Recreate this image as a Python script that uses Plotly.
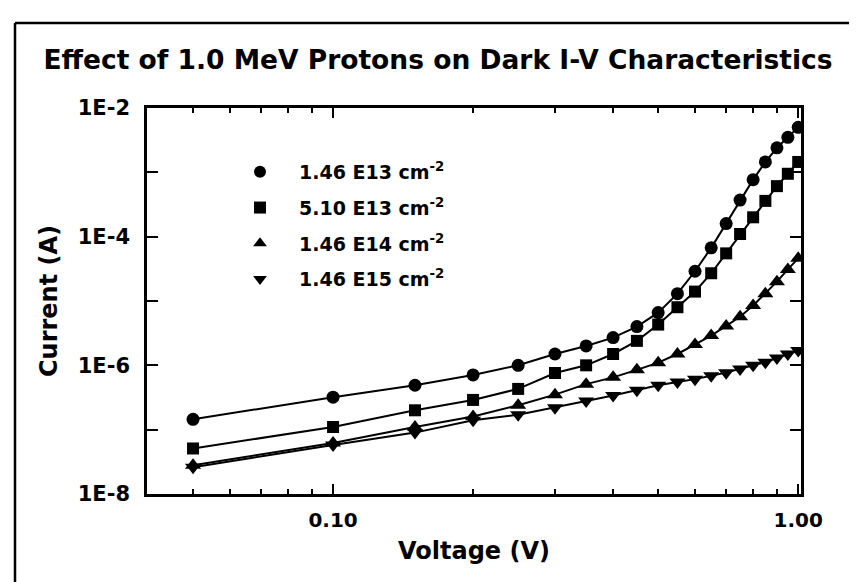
import plotly.graph_objects as go

# ---- data ----
voltage = [0.05, 0.10, 0.15, 0.20, 0.25, 0.30, 0.35, 0.40, 0.45, 0.50,
           0.55, 0.60, 0.65, 0.70, 0.75, 0.80, 0.85, 0.90, 0.95, 1.00]

i_146e13 = [1.45e-7, 3.2e-7, 4.9e-7, 7.1e-7, 1.0e-6, 1.5e-6, 2.0e-6, 2.7e-6, 4.0e-6, 6.6e-6,
            1.3e-5, 2.9e-5, 6.7e-5, 1.6e-4, 3.7e-4, 7.7e-4, 1.45e-3, 2.4e-3, 3.5e-3, 5.0e-3]
i_510e13 = [5.1e-8, 1.1e-7, 2.0e-7, 2.9e-7, 4.3e-7, 7.6e-7, 1.0e-6, 1.5e-6, 2.4e-6, 4.3e-6,
            8.0e-6, 1.4e-5, 2.7e-5, 5.5e-5, 1.1e-4, 2.0e-4, 3.6e-4, 6.1e-4, 9.5e-4, 1.45e-3]
i_146e14 = [2.8e-8, 6.2e-8, 1.1e-7, 1.6e-7, 2.4e-7, 3.5e-7, 5.1e-7, 6.5e-7, 8.5e-7, 1.1e-6,
            1.5e-6, 2.1e-6, 2.9e-6, 4.1e-6, 5.7e-6, 8.5e-6, 1.3e-5, 2.0e-5, 3.1e-5, 4.6e-5]
i_146e15 = [2.6e-8, 5.8e-8, 9.0e-8, 1.4e-7, 1.7e-7, 2.2e-7, 2.8e-7, 3.4e-7, 4.1e-7, 4.9e-7,
            5.5e-7, 6.1e-7, 6.9e-7, 7.7e-7, 8.8e-7, 1.0e-6, 1.12e-6, 1.3e-6, 1.5e-6, 1.7e-6]

series_names = ["1.46 E13 cm<sup>-2</sup>", "5.10 E13 cm<sup>-2</sup>",
                "1.46 E14 cm<sup>-2</sup>", "1.46 E15 cm<sup>-2</sup>"]
series_values = [i_146e13, i_510e13, i_146e14, i_146e15]
symbols = ["circle", "square", "triangle-up", "triangle-down"]
sizes = [13, 12, 14, 14]

x_tickvals = [0.1, 1.0]
x_ticktext = ["0.10", "1.00"]
x_minor = [0.05, 0.06, 0.07, 0.08, 0.09, 0.2, 0.3, 0.4, 0.5, 0.6, 0.7, 0.8, 0.9]
y_tickvals = [1e-2, 1e-3, 1e-4, 1e-5, 1e-6, 1e-7, 1e-8]
y_ticktext = ["1E-2", "", "1E-4", "", "1E-6", "", "1E-8"]

FONT = "DejaVu Sans, Liberation Sans, Arial, sans-serif"

fig = go.Figure()
for name, vals, sym, sz in zip(series_names, series_values, symbols, sizes):
    fig.add_trace(go.Scatter(
        x=voltage, y=vals, mode="lines+markers",
        line=dict(color="black", width=2),
        marker=dict(symbol=sym, size=sz, color="black"),
        showlegend=False, name=name))
# legend entries (marker only)
for i, (name, sym, sz) in enumerate(zip(series_names, symbols, sizes)):
    fig.add_trace(go.Scatter(
        x=[None], y=[None], mode="markers",
        marker=dict(symbol=sym, size=sz, color="black"),
        name="<b>" + name + "</b>", legendgroup=str(i)))

W, H = 857, 582
L, R, T, B = 139, 64, 100, 96
pw, ph = W - L - R, H - T - B

def px_x(p):
    return (p - L) / pw

def px_y(p):
    return (H - B - p) / ph

fig.update_layout(
    width=W, height=H,
    margin=dict(l=L, r=R, t=T, b=B),
    paper_bgcolor="white", plot_bgcolor="white",
    font=dict(family=FONT, color="black"),
    title=dict(text="<b>Effect of 1.0 MeV Protons on Dark I-V Characteristics</b>",
               x=430 / W, xanchor="center", y=1 - 52 / H, yanchor="middle",
               xref="container", yref="container",
               font=dict(size=26.5, family=FONT, color="black")),
    xaxis=dict(type="log", range=[-1.4, 0.006],
               tickmode="array", tickvals=x_tickvals, ticktext=x_ticktext,
               ticks="inside", ticklen=10, tickwidth=2, tickcolor="black",
               showline=True, linewidth=2.5, linecolor="black", mirror="ticks",
               showgrid=False, zeroline=False,
               minor=dict(tickmode="array", tickvals=x_minor, ticks="inside",
                          ticklen=5, tickwidth=2, tickcolor="black", showgrid=False),
               tickfont=dict(size=20, family=FONT, color="black", weight="bold"),
               ticklabelstandoff=6,
               title=dict(text="<b>Voltage (V)</b>", standoff=12,
                          font=dict(size=24, family=FONT, color="black"))),
    yaxis=dict(type="log", range=[-8, -2],
               tickmode="array", tickvals=y_tickvals, ticktext=y_ticktext,
               ticks="inside", ticklen=11, tickwidth=2, tickcolor="black",
               showline=True, linewidth=2.5, linecolor="black", mirror="ticks",
               showgrid=False, zeroline=False,
               tickfont=dict(size=21, family=FONT, color="black", weight="bold"),
               ticklabelstandoff=10,
               title=dict(text="<b>Current (A)</b>", standoff=14,
                          font=dict(size=24, family=FONT, color="black"))),
    legend=dict(x=px_x(213), y=px_y(145), xanchor="left", yanchor="top",
                bgcolor="rgba(0,0,0,0)", borderwidth=0,
                font=dict(size=19, family=FONT, color="black"),
                tracegroupgap=8, itemwidth=68, itemsizing="constant"),
    showlegend=True,
)

# outer frame (top and left border, partial bottom)
fig.add_shape(type="line", xref="paper", yref="paper",
              x0=px_x(7), x1=px_x(860), y0=px_y(15), y1=px_y(15),
              line=dict(color="black", width=2.5))
fig.add_shape(type="line", xref="paper", yref="paper",
              x0=px_x(7), x1=px_x(7), y0=px_y(15), y1=px_y(582),
              line=dict(color="black", width=2.5))
fig.add_shape(type="line", xref="paper", yref="paper",
              x0=px_x(745), x1=px_x(860), y0=px_y(579), y1=px_y(579),
              line=dict(color="black", width=2))

fig.write_html("out.html")
